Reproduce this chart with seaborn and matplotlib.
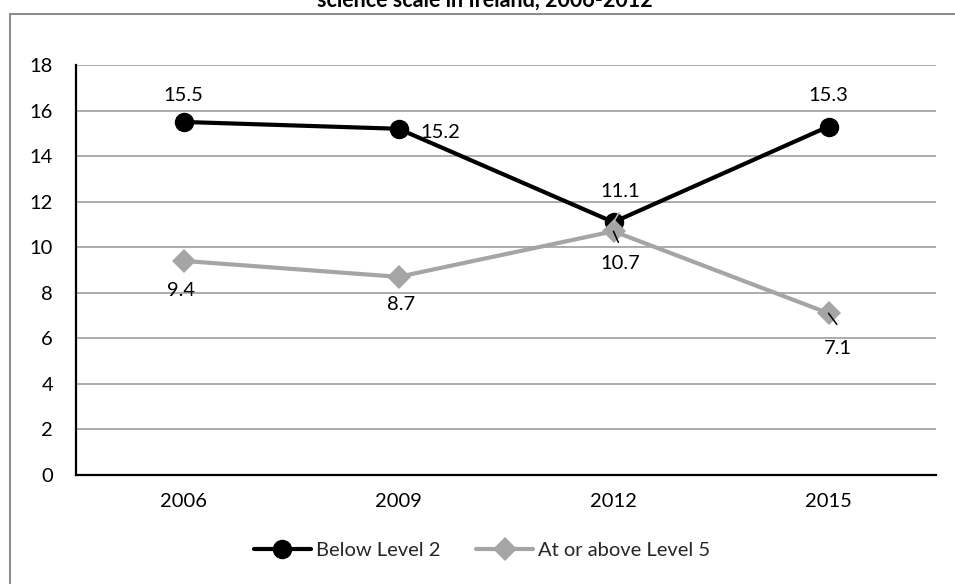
import matplotlib
matplotlib.use("Agg")
import matplotlib.pyplot as plt
import matplotlib.patches as mpatches
from matplotlib.ticker import FixedLocator
import seaborn as sns
import pandas as pd

years = ["2006", "2009", "2012", "2015"]
below_level2 = [15.5, 15.2, 11.1, 15.3]
above_level5 = [9.4, 8.7, 10.7, 7.1]
series_names = ["Below Level 2", "At or above Level 5"]

df = pd.DataFrame({
    "year": years * 2,
    "pct": below_level2 + above_level5,
    "group": [series_names[0]] * 4 + [series_names[1]] * 4,
})

sns.set_theme(style="white")
plt.rcParams["font.family"] = ["Lato", "DejaVu Sans"]

W, H = 955, 584
fig = plt.figure(figsize=(W / 100, H / 100), dpi=100)
ax = fig.add_axes([76 / W, (H - 475) / H, (936 - 76) / W, (475 - 65) / H])

grid_col = "#A6A6A6"
black = "#000000"
grey = "#A5A5A5"
fs = 14.5

sns.lineplot(data=df, x="year", y="pct", hue="group", style="group",
             palette=[black, grey], markers=["o", "D"], dashes=False,
             linewidth=3.0, markersize=14, markeredgewidth=0,
             legend=False, ax=ax, sort=False)
# diamond a bit smaller than circle
ax.lines[1].set_markersize(12)
ax.lines[1].set_zorder(3)
ax.lines[0].set_zorder(2)

ax.set_xlim(-0.5, 3.5)
ax.set_ylim(0, 18)
ax.set_yticks(range(0, 19, 2))
ax.yaxis.grid(True, color=grid_col, linewidth=1.3)
ax.set_axisbelow(True)
ax.set_xlabel("")
ax.set_ylabel("")

for s in ["top", "right"]:
    ax.spines[s].set_visible(False)
for s in ["left", "bottom"]:
    ax.spines[s].set_color(black)
    ax.spines[s].set_linewidth(1.6)

ax.set_xticks(range(4))
ax.set_xticklabels(years)
ax.xaxis.set_minor_locator(FixedLocator([-0.5, 0.5, 1.5, 2.5, 3.5]))
ax.tick_params(axis="x", which="major", length=0, pad=13, labelsize=fs, colors=black)
ax.tick_params(axis="x", which="minor", direction="in", length=5, width=1.3, color=black)
ax.tick_params(axis="y", which="major", direction="out", length=4.5, width=1.3,
               color=black, pad=12, labelsize=fs, labelcolor=black)

# value labels: (dx, dy) offsets in points
below_off = [(0, 19), (30, -3), (5, 22), (0, 22)]
above_off = [(-2, -21), (2, -20), (5, -23), (7, -25)]
for i, v in enumerate(below_level2):
    ax.annotate(f"{v:.1f}", (i, v), xytext=below_off[i], textcoords="offset points",
                ha="center", va="center", fontsize=fs, color=black)
for i, v in enumerate(above_level5):
    ax.annotate(f"{v:.1f}", (i, v), xytext=above_off[i], textcoords="offset points",
                ha="center", va="center", fontsize=fs, color=black)

# short leader lines
ax.annotate("", (2, above_level5[2]), xytext=(3.5, -8), textcoords="offset points",
            arrowprops=dict(arrowstyle="-", color=black, lw=1.1, shrinkA=0, shrinkB=0))
ax.annotate("", (3, above_level5[3]), xytext=(6, -8), textcoords="offset points",
            arrowprops=dict(arrowstyle="-", color=black, lw=1.1, shrinkA=0, shrinkB=0))
ax.annotate("", (2, below_level2[2]), xytext=(4, 7), textcoords="offset points",
            arrowprops=dict(arrowstyle="-", color="#BFBFBF", lw=1.1, shrinkA=0, shrinkB=0),
            zorder=4)

# legend
handles = [
    plt.Line2D([], [], color=black, lw=3.0, marker="o", markersize=14, markeredgewidth=0),
    plt.Line2D([], [], color=grey, lw=3.0, marker="D", markersize=12, markeredgewidth=0),
]
fig.legend(handles, series_names, loc="center", bbox_to_anchor=(482 / W, (H - 550) / H),
           ncol=2, frameon=False, fontsize=fs, handlelength=2.8, handletextpad=0.25,
           columnspacing=1.8)

# chart frame
fig.patches.append(mpatches.Rectangle((10 / W, -0.05), 1.2, (H - 14) / H + 0.05,
                                      transform=fig.transFigure, fill=False,
                                      edgecolor="#8C8C8C", linewidth=1.5))

fig.text(485 / W, 1 - 7 / H, "science scale in Ireland, 2006-2012", ha="center",
         va="baseline", fontsize=15.5, fontweight="bold", color=black)

fig.savefig("out.png", dpi=100, facecolor="white")
